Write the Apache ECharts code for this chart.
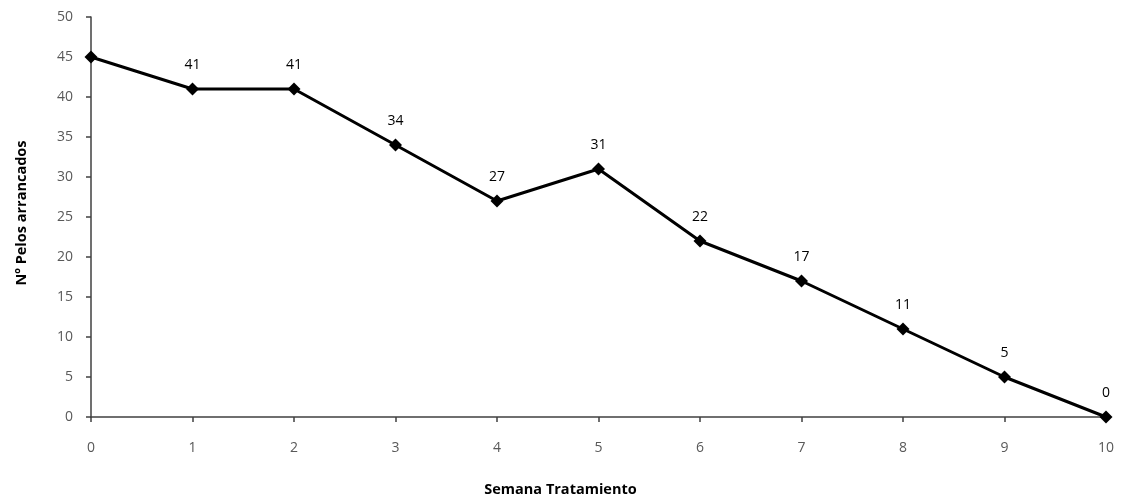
<!DOCTYPE html>
<html>
<head>
<meta charset="utf-8">
<script src="https://cdn.jsdelivr.net/npm/echarts@6/dist/echarts.min.js"></script>
<style>
  html, body { margin: 0; padding: 0; background: #ffffff; }
  #chart { width: 1121px; height: 500px; }
</style>
</head>
<body>
<div id="chart"></div>
<script>
// Weekly count of hairs pulled during treatment
const weeks = [0, 1, 2, 3, 4, 5, 6, 7, 8, 9, 10];
const pelos = [45, 41, 41, 34, 27, 31, 22, 17, 11, 5, 0];
const labelled = [false, true, true, true, true, true, true, true, true, true, true];

const font = '"Open Sans", "Liberation Sans", sans-serif';

const chart = echarts.init(document.getElementById('chart'));
chart.setOption({
  animation: false,
  grid: { left: 91, right: 15, top: 17, bottom: 83, outerBoundsMode: 'none', containLabel: false },
  xAxis: {
    type: 'value',
    min: 0, max: 10, interval: 1,
    name: 'Semana Tratamiento',
    nameLocation: 'middle',
    nameGap: 65,
    nameTextStyle: { fontFamily: font, fontWeight: 'bold', fontSize: 14.5, color: '#000', padding: [0, 76, 0, 0] },
    axisLine: { show: true, lineStyle: { color: '#404040', width: 1.5 } },
    axisTick: { show: true, length: 5, lineStyle: { color: '#404040', width: 1.5 } },
    axisLabel: { fontFamily: font, fontSize: 14, color: '#595959', margin: 24 },
    splitLine: { show: false }
  },
  yAxis: {
    type: 'value',
    min: 0, max: 50, interval: 5,
    name: 'Nº Pelos arrancados',
    nameLocation: 'middle',
    nameGap: 62,
    nameTextStyle: { fontFamily: font, fontWeight: 'bold', fontSize: 14.5, color: '#000', padding: [0, 0, 0, 8] },
    axisLine: { show: true, lineStyle: { color: '#404040', width: 1.5 } },
    axisTick: { show: true, length: 5, lineStyle: { color: '#404040', width: 1.5 } },
    axisLabel: { fontFamily: font, fontSize: 14, color: '#595959', margin: 18 },
    splitLine: { show: false }
  },
  series: [{
    type: 'line',
    data: weeks.map((w, i) => ({
      value: [w, pelos[i]],
      label: { show: labelled[i] }
    })),
    symbol: 'diamond',
    symbolSize: 13,
    lineStyle: { color: '#000', width: 3 },
    itemStyle: { color: '#000' },
    label: {
      position: 'top',
      distance: 10,
      fontFamily: font,
      fontSize: 14,
      color: '#000'
    }
  }]
});
</script>
</body>
</html>
